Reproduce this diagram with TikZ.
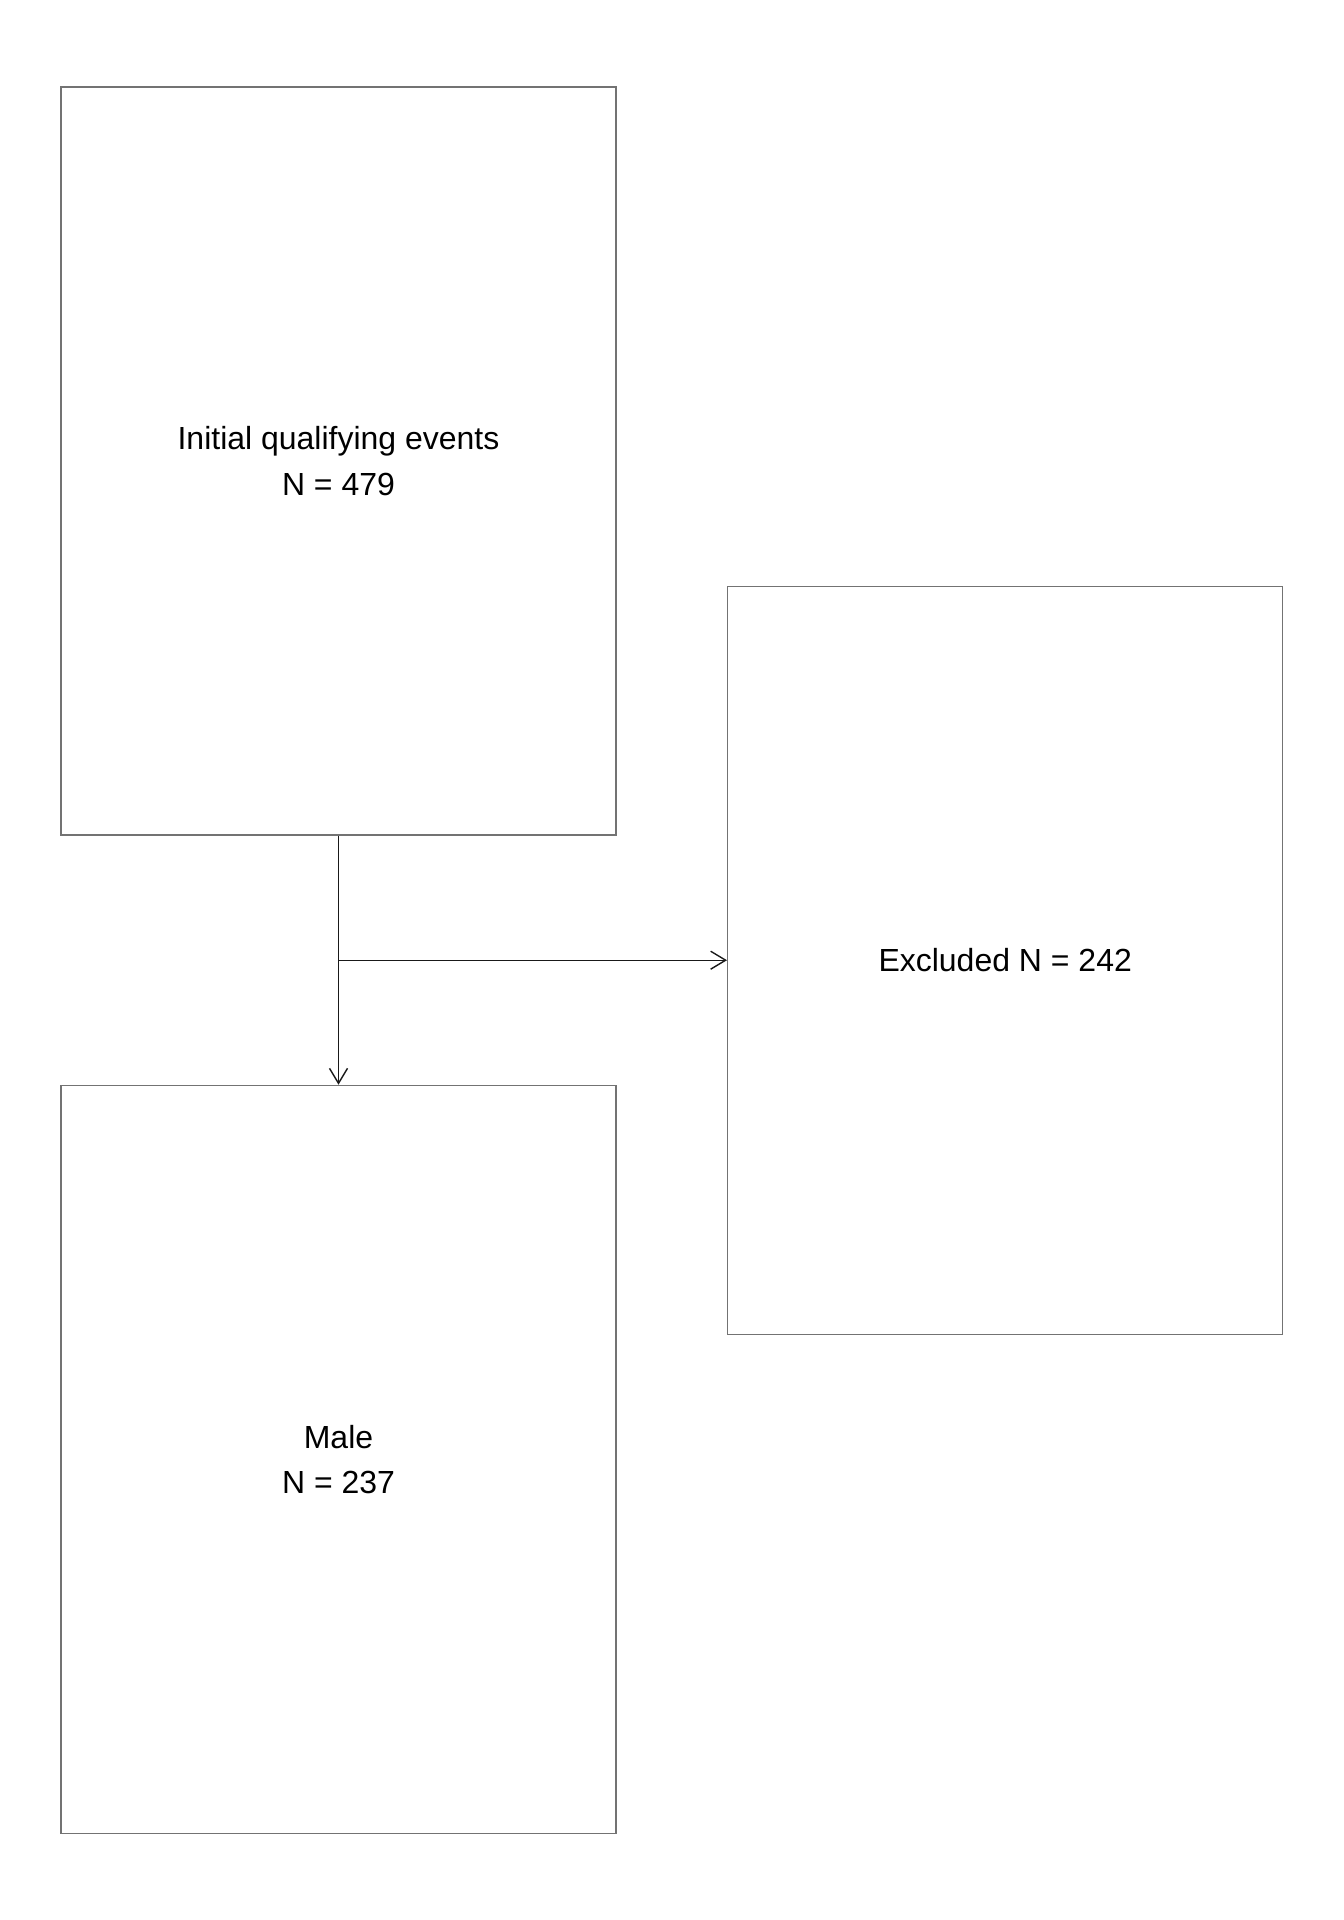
\documentclass[tikz,border=0pt]{standalone}
\usepackage{fontspec}
\setmainfont{Liberation Sans}
\usetikzlibrary{positioning,arrows.meta,calc}
\tikzset{
    flowbox/.style={draw=black!55, line width=0.8pt, rectangle, align=center, minimum width=11.1cm, minimum height=14.96cm, inner sep=0pt, font=\fontsize{18.2}{26}\selectfont},
    flowarrow/.style={draw=black!90, line width=0.8pt, -{Straight Barb[length=3mm, width=3.6mm]}}
}
\begin{document}
\begin{tikzpicture}[node distance=4.98cm]
    \useasboundingbox (0,0) rectangle (26.88,-38.4);
    \node[flowbox] (initial) at (6.77,-9.22) {Initial qualifying events\\N = 479};
    \node[flowbox, below=of initial] (male) {Male\\N = 237};
    \coordinate (split) at ($(initial.south)!0.5!(male.north)$);
    \node[flowbox, right=7.77cm of split] (excluded) {Excluded N = 242};

    \draw[flowarrow] (initial) -- (male);
    \draw[flowarrow] (split) -- (excluded);
\end{tikzpicture}
\end{document}
